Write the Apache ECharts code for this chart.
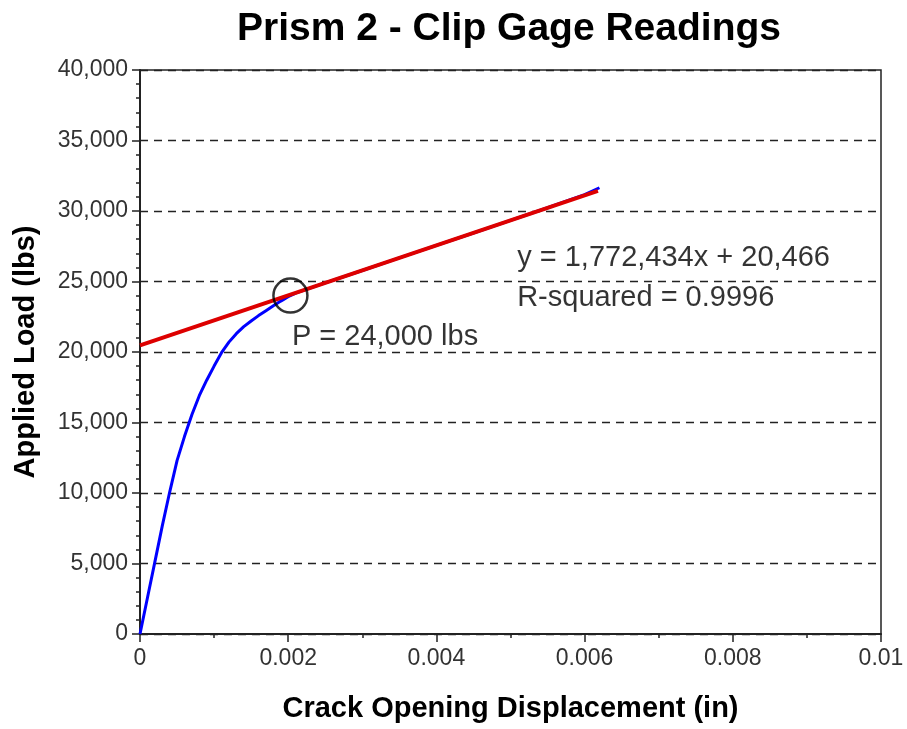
<!DOCTYPE html>
<html>
<head>
<meta charset="utf-8">
<script src="https://cdn.jsdelivr.net/npm/echarts@6/dist/echarts.min.js"></script>
<style>html,body{margin:0;padding:0;background:#fff}#c{width:907px;height:729px}</style>
</head>
<body>
<div id="c"></div>
<script>
// Measured clip gage readings (displacement in, load lbs)
const displacement = [0, 0.0001, 0.0002, 0.0003, 0.0004, 0.0005, 0.0006, 0.0007, 0.0008, 0.0009, 0.0010, 0.0011, 0.0012, 0.0013, 0.0014, 0.0015, 0.0016, 0.0017, 0.0018, 0.0019, 0.0020, 0.0021, 0.0025, 0.0030, 0.0035, 0.0040, 0.0045, 0.0050, 0.0055, 0.0060, 0.0062];
const load = [0, 2550, 5100, 7650, 10050, 12300, 14000, 15550, 16900, 18000, 19000, 19950, 20700, 21300, 21800, 22200, 22580, 22930, 23280, 23610, 23920, 24180, 24900, 25780, 26680, 27560, 28440, 29330, 30230, 31160, 31650];
// Linear fit line endpoints
const fitX = [0, 0.00618];
const fitY = [20466, 31420];
// Annotations
const circlePoint = [0.00203, 24000];
const annotations = [
  { x: 0.00205, y: 21050, text: 'P = 24,000 lbs' },
  { x: 0.00509, y: 26680, text: 'y = 1,772,434x + 20,466' },
  { x: 0.00509, y: 23830, text: 'R-squared = 0.9996' }
];
const titleText = 'Prism 2 - Clip Gage Readings';
const xName = 'Crack Opening Displacement (in)';
const yName = 'Applied Load (lbs)';

const FONT = "'Liberation Sans', Arial, sans-serif";
const chart = echarts.init(document.getElementById('c'));
chart.setOption({
  animation: false,
  backgroundColor: '#fff',
  title: {
    text: titleText, left: 232, top: 5,
    textStyle: { fontFamily: FONT, fontSize: 39, fontWeight: 'bold', color: '#000' }
  },
  grid: { left: 140, right: 26, top: 70, bottom: 95, show: true, borderColor: '#222', borderWidth: 1.5, backgroundColor: 'transparent' },
  xAxis: {
    type: 'value', min: 0, max: 0.01, interval: 0.002,
    name: xName, nameLocation: 'middle', nameGap: 60,
    nameTextStyle: { fontFamily: FONT, fontSize: 29, fontWeight: 'bold', color: '#000' },
    axisLine: { show: true, onZero: false, lineStyle: { color: '#222', width: 2 } },
    axisTick: { show: true, length: 8, lineStyle: { color: '#222', width: 1.5 } },
    minorTick: { show: true, splitNumber: 2, length: 4, lineStyle: { color: '#222', width: 1.5 } },
    splitLine: { show: false },
    axisLabel: { fontFamily: FONT, fontSize: 23, color: '#333', margin: 13,
      formatter: v => String(parseFloat(v.toFixed(4))) }
  },
  yAxis: {
    type: 'value', min: 0, max: 40000, interval: 5000,
    name: yName, nameLocation: 'middle', nameGap: 100,
    nameTextStyle: { fontFamily: FONT, fontSize: 29, fontWeight: 'bold', color: '#000' },
    axisLine: { show: true, lineStyle: { color: '#222', width: 2 } },
    axisTick: { show: true, length: 8, lineStyle: { color: '#222', width: 1.5 } },
    minorTick: { show: true, splitNumber: 5, length: 4, lineStyle: { color: '#222', width: 1.5 } },
    splitLine: { show: true, lineStyle: { color: '#222', width: 1.3, type: [8, 6] } },
    axisLabel: { fontFamily: FONT, fontSize: 23, color: '#333', margin: 12,
      formatter: v => v.toLocaleString('en-US') }
  },
  series: [
    {
      type: 'line', name: 'data', showSymbol: false, smooth: false,
      data: displacement.map((x, i) => [x, load[i]]),
      lineStyle: { color: '#0000ff', width: 3 }, z: 2
    },
    {
      type: 'line', name: 'fit', showSymbol: false,
      data: fitX.map((x, i) => [x, fitY[i]]),
      lineStyle: { color: '#dd0000', width: 4 }, z: 3
    },
    {
      type: 'scatter', name: 'circle', symbol: 'circle', symbolSize: 34,
      data: [circlePoint],
      itemStyle: { color: 'rgba(0,0,0,0)', borderColor: '#000', borderWidth: 2.5 }, z: 4
    },
    {
      type: 'scatter', name: 'text', symbolSize: 0,
      data: annotations.map(a => ({ value: [a.x, a.y], label: { formatter: a.text } })),
      label: { show: true, position: 'right', distance: 0, fontFamily: FONT, fontSize: 29, color: '#000', verticalAlign: 'middle' },
      z: 5
    }
  ]
});
</script>
</body>
</html>
